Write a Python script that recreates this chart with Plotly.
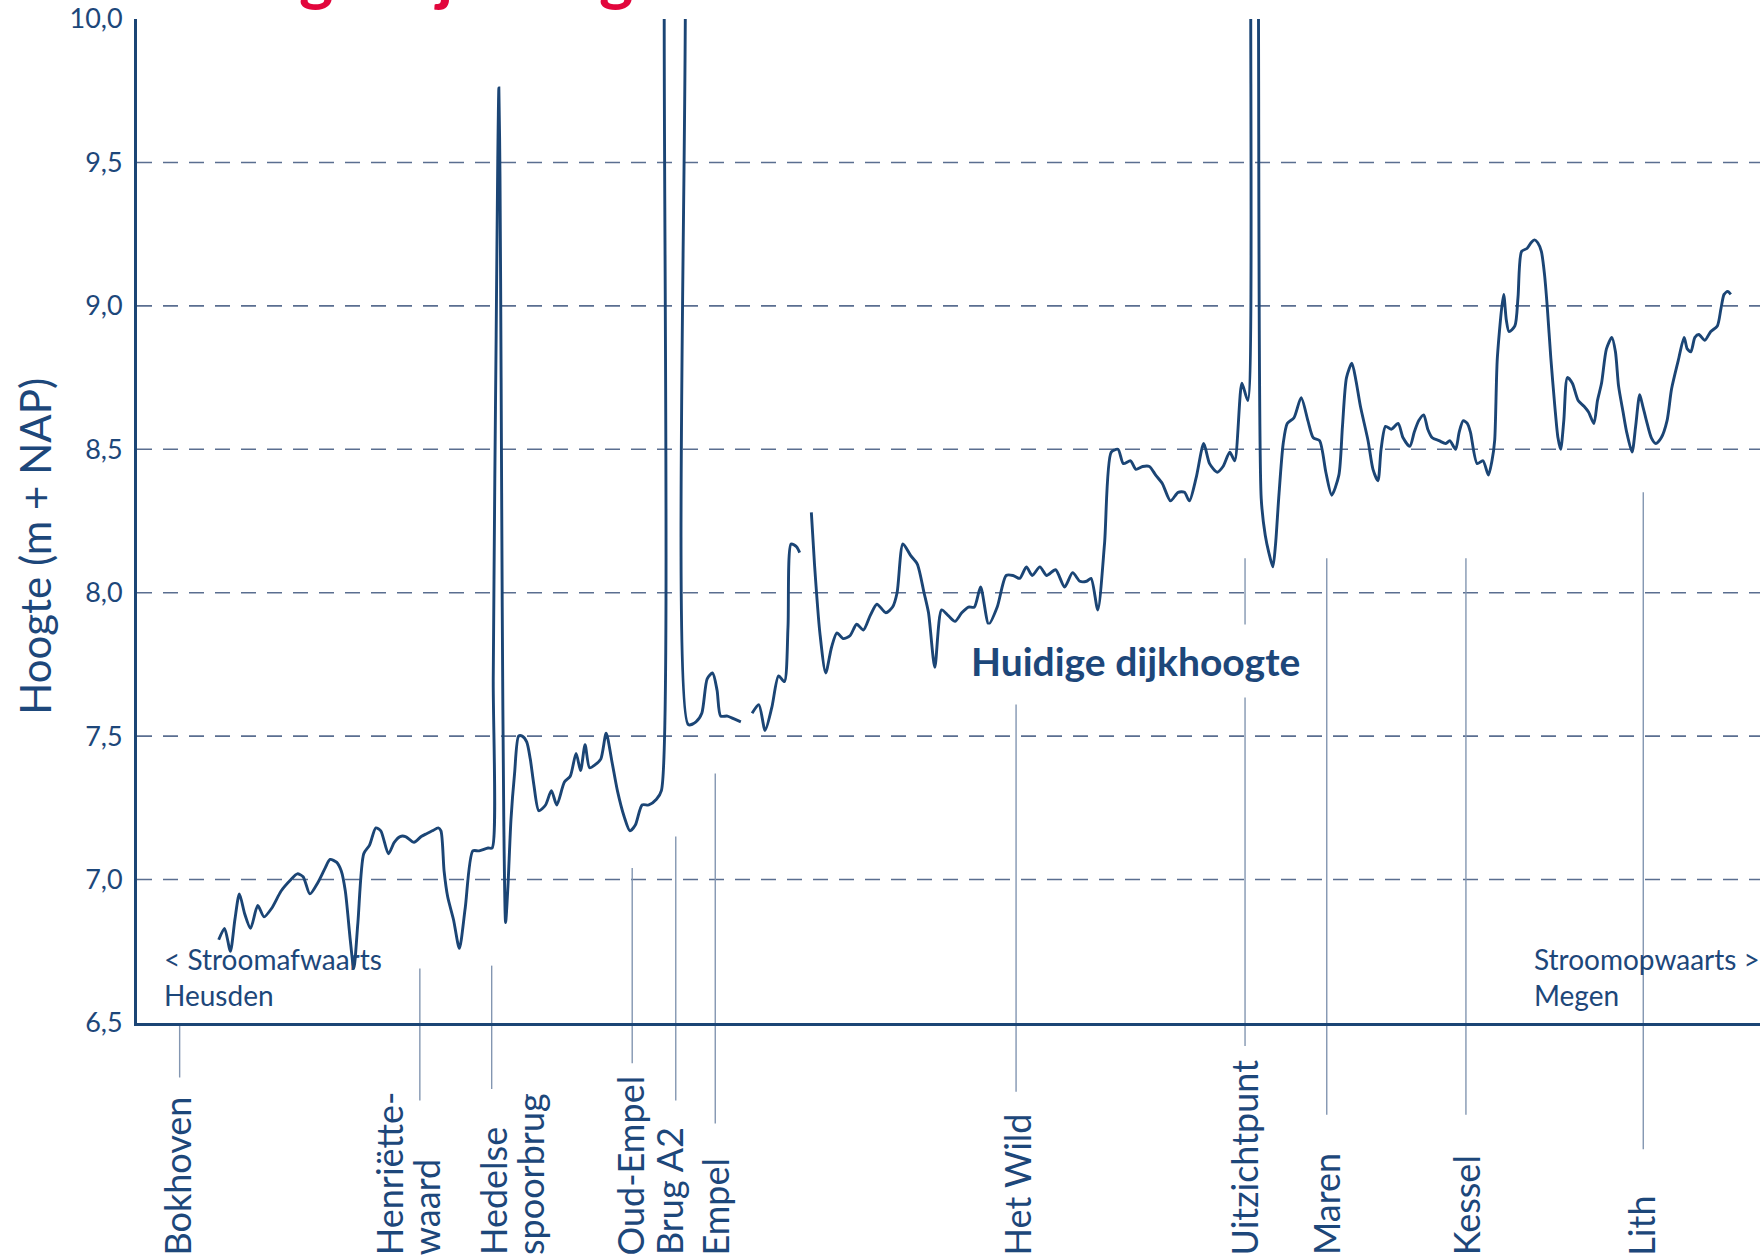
import plotly.graph_objects as go

# ---------------- data ----------------
# distance along the dike (km from the left edge of the chart, Heusden side)
seg1_km = [1.82, 1.95, 2.08, 2.18, 2.28, 2.40, 2.53, 2.69, 2.83, 3.00,
           3.21, 3.43, 3.57, 3.70, 3.85, 4.03, 4.19, 4.30, 4.45, 4.55,
           4.64, 4.75, 4.83, 4.92, 5.05, 5.18, 5.32, 5.43, 5.60, 5.73,
           5.86, 5.98, 6.17, 6.33, 6.45, 6.58, 6.71, 6.77, 6.84, 6.92,
           7.05, 7.18, 7.31, 7.48, 7.62, 7.82, 7.91, 7.935, 7.97, 8.00, 8.035,
           8.06, 8.085, 8.11, 8.135, 8.17, 8.21, 8.26, 8.33, 8.41, 8.50,
           8.58, 8.68, 8.76, 8.84, 8.95, 9.10, 9.23, 9.35, 9.52, 9.65,
           9.78, 9.88, 9.98, 10.08, 10.20, 10.33, 10.45, 10.58, 10.70, 10.85,
           10.98, 11.10, 11.25, 11.40, 11.57, 11.68, 11.75, 11.95, 12.21, 12.28,
           12.45, 12.58, 12.70, 12.82, 12.92, 13.00, 13.15, 13.30, 13.45]
# dike height (m + NAP)
seg1_h = [6.79, 6.83, 6.75, 6.86, 6.95, 6.88, 6.83, 6.91, 6.87, 6.90,
          6.96, 7.00, 7.02, 7.01, 6.95, 6.99, 7.04, 7.07, 7.06, 7.03,
          6.96, 6.79, 6.69, 6.85, 7.09, 7.12, 7.18, 7.17, 7.09, 7.13,
          7.15, 7.15, 7.13, 7.15, 7.16, 7.17, 7.18, 7.17, 7.03, 6.94,
          6.86, 6.76, 6.90, 7.10, 7.10, 7.11, 7.11, 7.70, 8.40, 8.90, 9.50,
          9.76, 9.45, 8.75, 7.95, 7.20, 6.85, 6.97, 7.21, 7.37, 7.50,
          7.50, 7.48, 7.42, 7.33, 7.24, 7.26, 7.31, 7.26, 7.34, 7.36,
          7.44, 7.38, 7.47, 7.39, 7.40, 7.42, 7.51, 7.41, 7.31, 7.22,
          7.17, 7.19, 7.26, 7.26, 7.28, 7.31, 10.3, 11.5, 10.3, 7.54,
          7.55, 7.58, 7.70, 7.72, 7.66, 7.57, 7.57, 7.56, 7.55]

seg2_km = [13.70, 13.85, 13.99, 14.14, 14.29, 14.42, 14.50, 14.57, 14.69, 14.76]
seg2_h = [7.58, 7.61, 7.52, 7.60, 7.71, 7.69, 7.88, 8.17, 8.16, 8.14]

seg3_km = [15.02, 15.09, 15.21, 15.34, 15.47, 15.59, 15.73, 15.88, 16.03, 16.18,
           16.33, 16.48, 16.68, 16.83, 16.93, 17.06, 17.23, 17.38, 17.53, 17.63,
           17.77, 17.92, 18.07, 18.22, 18.37, 18.52, 18.65, 18.79, 18.97, 19.16,
           19.36, 19.51, 19.66, 19.81, 19.94, 20.11, 20.26, 20.46, 20.66, 20.84,
           21.00, 21.15, 21.25, 21.40, 21.55, 21.70, 21.85, 21.97, 22.13, 22.25,
           22.40, 22.55, 22.69, 22.84, 23.02, 23.19, 23.33, 23.44, 23.59, 23.76,
           23.89, 24.06, 24.19, 24.34, 24.45, 24.61, 24.74, 24.81, 24.89, 24.97,
           25.04, 25.13, 25.21, 25.30, 25.36, 25.43, 25.53, 25.62, 25.77, 25.93,
           26.08, 26.20, 26.34, 26.48, 26.61, 26.77, 26.85, 26.94, 27.06, 27.15,
           27.25, 27.42, 27.53, 27.64, 27.71, 27.81, 27.94, 28.09, 28.20, 28.35,
           28.45, 28.55, 28.66, 28.75, 28.85, 29.00, 29.15, 29.24, 29.37, 29.45,
           29.54, 29.63, 29.70, 29.85, 29.98, 30.10, 30.18, 30.24, 30.30, 30.44,
           30.50, 30.56, 30.69, 30.76, 30.84, 30.96, 31.05, 31.13, 31.20, 31.28,
           31.35, 31.41, 31.49, 31.58, 31.65, 31.71, 31.78, 31.86, 31.97, 32.10,
           32.23, 32.33, 32.45, 32.53, 32.62, 32.73, 32.85, 32.93, 33.00, 33.10,
           33.18, 33.30, 33.38, 33.47, 33.54, 33.62, 33.73, 33.83, 33.95, 34.08,
           34.18, 34.33, 34.46, 34.53, 34.61, 34.70, 34.79, 34.92, 35.05, 35.20,
           35.28, 35.35, 35.43, 35.50]
seg3_h = [8.28, 8.10, 7.86, 7.72, 7.81, 7.86, 7.84, 7.85, 7.89, 7.87,
          7.92, 7.96, 7.93, 7.95, 8.00, 8.17, 8.13, 8.10, 8.00, 7.93,
          7.74, 7.94, 7.92, 7.90, 7.93, 7.95, 7.95, 8.02, 7.89, 7.95,
          8.06, 8.06, 8.05, 8.09, 8.06, 8.09, 8.06, 8.08, 8.02, 8.07,
          8.04, 8.04, 8.05, 7.94, 8.17, 8.49, 8.50, 8.45, 8.46, 8.43,
          8.44, 8.44, 8.41, 8.38, 8.32, 8.35, 8.35, 8.32, 8.40, 8.52,
          8.45, 8.42, 8.44, 8.49, 8.46, 8.73, 8.67, 10.3, 11.0, 10.3,
          8.33, 8.20, 8.14, 8.09, 8.17, 8.33, 8.52, 8.59, 8.61, 8.68,
          8.60, 8.54, 8.53, 8.42, 8.34, 8.41, 8.58, 8.75, 8.80, 8.74,
          8.65, 8.53, 8.43, 8.39, 8.50, 8.58, 8.57, 8.59, 8.54, 8.51,
          8.56, 8.60, 8.62, 8.57, 8.54, 8.53, 8.52, 8.53, 8.50, 8.56,
          8.60, 8.59, 8.56, 8.45, 8.46, 8.41, 8.46, 8.53, 8.82, 9.04,
          8.95, 8.91, 8.93, 9.03, 9.19, 9.20, 9.22, 9.23, 9.22, 9.19,
          9.11, 9.00, 8.82, 8.65, 8.54, 8.50, 8.60, 8.75, 8.73, 8.67,
          8.65, 8.63, 8.59, 8.67, 8.73, 8.85, 8.89, 8.84, 8.72, 8.63,
          8.56, 8.49, 8.58, 8.69, 8.65, 8.60, 8.54, 8.52, 8.54, 8.60,
          8.71, 8.81, 8.89, 8.85, 8.84, 8.89, 8.90, 8.88, 8.91, 8.93,
          8.99, 9.04, 9.05, 9.04]

# axis
Y_MIN, Y_MAX = 6.5, 10.0
X_MIN, X_MAX = 0.0, 36.15
tick_vals = [6.5, 7.0, 7.5, 8.0, 8.5, 9.0, 9.5, 10.0]
tick_text = ["6,5", "7,0", "7,5", "8,0", "8,5", "9,0", "9,5", "10,0"]
grid_vals = [7.0, 7.5, 8.0, 8.5, 9.0, 9.5]

# locations along the dike
loc_names = ["Bokhoven", "Henriëtte-\nwaard", "Hedelse\nspoorbrug", "Oud-Empel", "Brug A2",
             "Empel", "Het Wild", "Uitzichtpunt", "Maren", "Kessel", "Lith"]
loc_km = [0.95, 6.30, 7.90, 11.03, 12.00, 12.88, 19.58, 24.68, 26.50, 29.60, 33.55]
loc_top = [6.50, 6.69, 6.70, 7.04, 7.15, 7.37, 7.61, 8.12, 8.12, 8.12, 8.35]
loc_bottom = [6.31, 6.23, 6.27, 6.36, 6.23, 6.15, 6.26, 6.42, 6.18, 6.18, 6.06]

# ---------------- styling ----------------
NAVY = "#1b4575"
TEXT = "#1d477a"
GRID = "#5a6e90"
MARK = "#8396b1"
RED = "#e2063c"
FONT = "Lato, 'Open Sans', sans-serif"
label_shift = [-3, -30, 2, -2, -6, 0, 1, -1, 0, 0, -2]  # px offset of first text line
LINE_STEP = 37  # px between lines of a two-line label


def to_paper(v):
    return (v - Y_MIN) / (Y_MAX - Y_MIN)


xs = seg1_km + [None] + seg2_km + [None] + seg3_km
ys = seg1_h + [None] + seg2_h + [None] + seg3_h

fig = go.Figure()
fig.add_trace(go.Scatter(x=xs, y=ys, mode="lines",
                         line=dict(color=NAVY, width=2.9, shape="spline", smoothing=0.7),
                         connectgaps=False, hoverinfo="skip", showlegend=False))

shapes = []
for g in grid_vals:
    shapes.append(dict(type="line", xref="paper", x0=0, x1=1, yref="y", y0=g, y1=g,
                       line=dict(color=GRID, width=1.6, dash="15px,11px"), layer="below"))
for k, t, b in zip(loc_km, loc_top, loc_bottom):
    shapes.append(dict(type="line", xref="x", x0=k, x1=k, yref="paper",
                       y0=to_paper(b), y1=to_paper(t),
                       line=dict(color=MARK, width=1.4), layer="below"))

annotations = []
# cropped red title at the top
annotations.append(dict(text="<b>Huidige dijkhoogte</b>", xref="paper", yref="paper",
                        x=0.0022, y=1.005, xanchor="left", yanchor="bottom", showarrow=False,
                        font=dict(family=FONT, size=65, color=RED)))
# y-axis title
annotations.append(dict(text="Hoogte (m + NAP)", xref="paper", yref="paper",
                        x=-0.0628, y=0.4744, xanchor="center", yanchor="middle", textangle=-90,
                        showarrow=False, font=dict(family=FONT, size=42, color=TEXT)))
# direction labels
annotations.append(dict(text="&lt; Stroomafwaarts<br>Heusden", xref="paper", yref="paper",
                        x=0.0155, y=0.0455, xanchor="left", yanchor="middle", align="left",
                        showarrow=False, font=dict(family=FONT, size=28, color=TEXT)))
annotations.append(dict(text="Stroomopwaarts &gt;<br>Megen", xref="paper", yref="paper",
                        x=0.8595, y=0.0455, xanchor="left", yanchor="middle", align="left",
                        showarrow=False, font=dict(family=FONT, size=28, color=TEXT)))
# line label
annotations.append(dict(text="<b>Huidige dijkhoogte</b>", xref="x", yref="y",
                        x=22.25, y=7.762, xanchor="center", yanchor="middle",
                        bgcolor="white", borderpad=13, showarrow=False,
                        font=dict(family=FONT, size=39, color=TEXT)))
# location labels (rotated, bottom aligned)
for name, k, sh in zip(loc_names, loc_km, label_shift):
    for i, part in enumerate(name.split("\n")):
        annotations.append(dict(text=part, xref="x", yref="paper", x=k, y=to_paper(5.683),
                                xanchor="center", yanchor="bottom", textangle=-90,
                                xshift=sh + i * LINE_STEP, showarrow=False,
                                font=dict(family=FONT, size=36, color=TEXT)))

fig.update_layout(
    width=1760, height=1258,
    margin=dict(l=137, r=0, t=19, b=235),
    paper_bgcolor="white", plot_bgcolor="white",
    shapes=shapes, annotations=annotations,
    xaxis=dict(range=[X_MIN, X_MAX], showgrid=False, zeroline=False, showticklabels=False,
               ticks="", showline=True, linecolor=NAVY, linewidth=3),
    yaxis=dict(range=[Y_MIN, Y_MAX], tickvals=tick_vals, ticktext=tick_text,
               showgrid=False, zeroline=False, ticks="", ticklabelstandoff=6,
               showline=True, linecolor=NAVY, linewidth=3,
               tickfont=dict(family=FONT, size=27, color=TEXT)),
)

fig.write_html("out.html", config={"displayModeBar": False},
               post_script="document.body.style.margin='0';document.body.style.overflow='hidden';")
